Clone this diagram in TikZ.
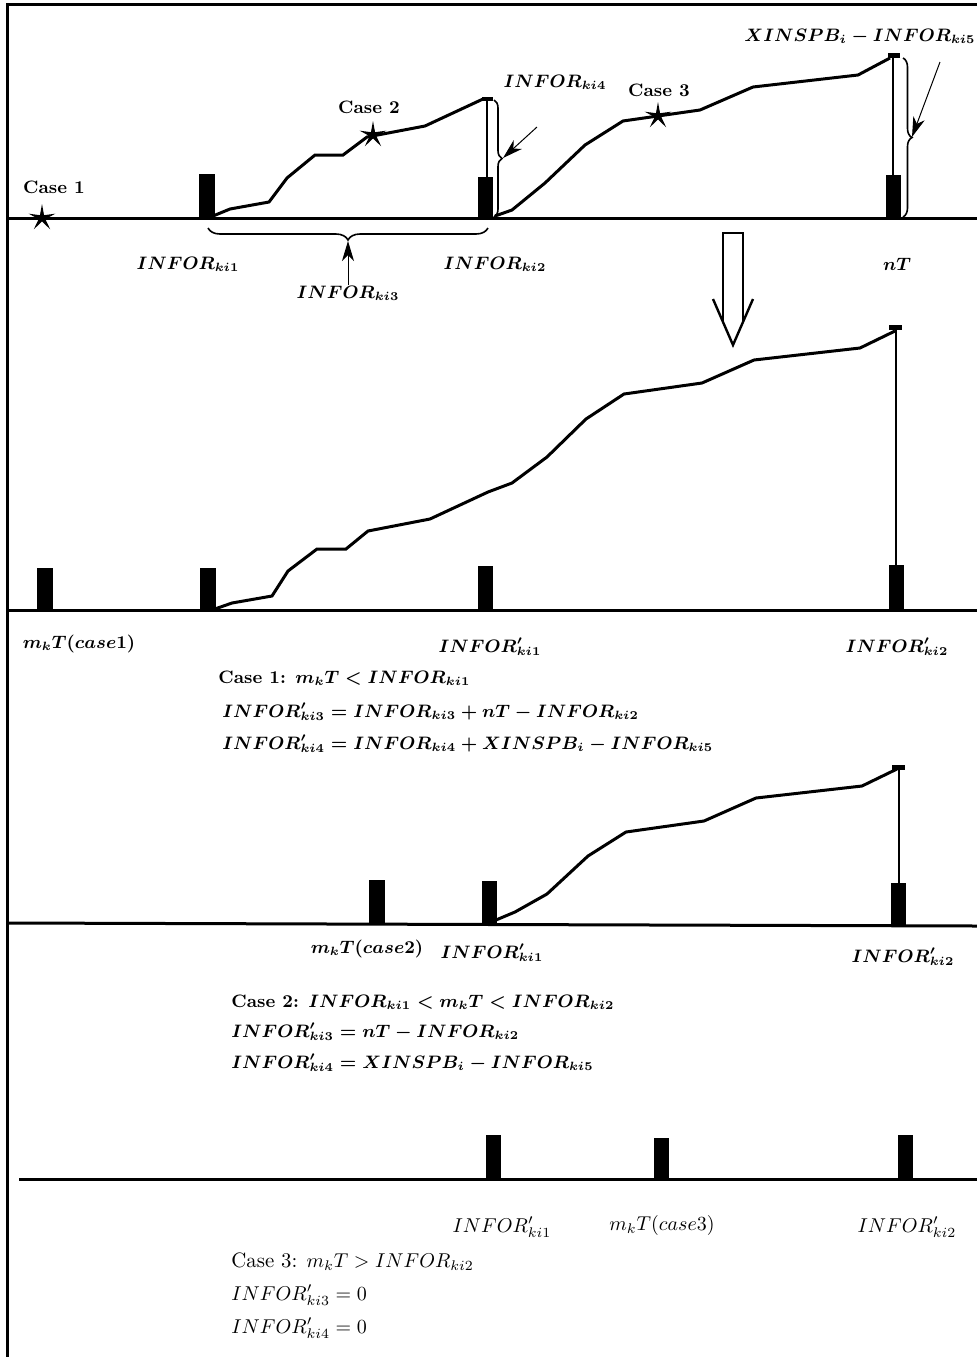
\documentclass[tikz,border=0pt]{standalone}
\usepackage{amsmath}
\usetikzlibrary{arrows.meta,decorations.pathreplacing,shapes.geometric}
\begin{document}
\begin{tikzpicture}[x=0.5pt,y=-0.5pt,
  frame/.style={line width=1.5pt},
  axis/.style={line width=1.5pt},
  curve/.style={line width=1.5pt,line join=miter},
  pole/.style={line width=1pt},
  lbl/.style={inner sep=0pt,anchor=base,font=\fontsize{9}{11}\selectfont\boldmath},
  eqn/.style={inner sep=0pt,anchor=base west,font=\fontsize{9}{11}\selectfont\boldmath},
  lblr/.style={inner sep=0pt,anchor=base,font=\fontsize{10.4}{12.5}\selectfont},
  eqnr/.style={inner sep=0pt,anchor=base west,font=\fontsize{10.4}{12.5}\selectfont},
  casestar/.style={star,star points=5,star point ratio=4,fill=black,minimum size=14pt,inner sep=0pt},
  bracev/.style={decorate,decoration={brace,amplitude=#1},line width=0.8pt},
  braceh/.style={decorate,decoration={brace,amplitude=6pt,mirror},line width=0.8pt},
  thinarrow/.style={-{Stealth[length=10pt,width=6pt,inset=3pt]},line width=0.5pt},
  hollow/.style={line width=1.2pt,line join=miter},
]
\useasboundingbox (0,0) rectangle (977,1357);
% frame
\draw[frame] (7,1357) -- (7,4) -- (977,4);

% ---------------- panel 1 ----------------
\draw[axis] (9,218) -- (977,218);
\fill (199,174) rectangle (215,218);
\fill (478,177) rectangle (493,218);
\draw[pole] (487,99) -- (487,177);
\fill (482,97) rectangle (493,101);
\fill (886,175) rectangle (901,218);
\draw[pole] (893,56) -- (893,175);
\fill (888,53) rectangle (900,58);
\draw[curve] (213,216) -- (230,209) -- (269,202) -- (287,178) -- (315,155) -- (343,155) -- (367,137) -- (425,126) -- (483,99);
\draw[curve] (495,216) -- (512,210) -- (545,183) -- (585,145) -- (623,121) -- (700,110) -- (753,87) -- (858,75) -- (890,58);
\node[casestar] (s1) at (42,218) {};
\node[casestar] (s2) at (373,135) {};
\node[casestar] (s3) at (658,116) {};
\node[lbl] (c1) at (54,193) {\bfseries Case 1};
\node[lbl] (c2) at (369,113) {\bfseries Case 2};
\node[lbl] (c3) at (659,96) {\bfseries Case 3};
\node[lbl] (i1) at (188,269) {$INFOR_{ki1}$};
\node[lbl] (i2) at (495,269) {$INFOR_{ki2}$};
\node[lbl] (nt) at (897,270) {$nT$};
\node[lbl] (i3) at (348,298) {$INFOR_{ki3}$};
\node[lbl] (i4) at (555,87) {$INFOR_{ki4}$};
\node[lbl] (x5) at (860,41) {$XINSPB_i-INFOR_{ki5}$};
% braces and pointers
\draw[braceh] (208,228) -- (488,228);
\coordinate (b3tip) at (348,241);
\draw[thinarrow] (i3.north) -- (b3tip);
\draw[bracev=4pt] (494,100) -- (494,217);
\coordinate (b4tip) at (503,158);
\coordinate (a4start) at (537,127);
\draw[thinarrow] (a4start) -- (b4tip);
\draw[bracev=4.5pt] (903,58) -- (903,217);
\coordinate (b5tip) at (912,137);
\coordinate (a5start) at (940,62);
\draw[thinarrow] (a5start) -- (b5tip);
% hollow arrow
\draw[hollow] (723,322) -- (723,233) -- (743,233) -- (743,322);
\draw[hollow] (713,299) -- (733,345) -- (753,299);

% ---------------- panel 2 ----------------
\draw[axis] (9,610) -- (977,610);
\fill (37,568) rectangle (53,610);
\fill (200,568) rectangle (216,610);
\fill (478,566) rectangle (493,610);
\fill (889,565) rectangle (904,610);
\draw[pole] (896,329) -- (896,565);
\fill (889,325) rectangle (902,330);
\draw[curve] (212,610) -- (232,603) -- (272,596) -- (288,571) -- (317,549) -- (346,549) -- (368,531) -- (430,519) -- (488,492) -- (512,483) -- (547,457) -- (586,419) -- (624,394) -- (702,383) -- (754,360) -- (860,348) -- (895,331);
\node[lbl] (m1) at (79,648) {$m_kT(case1)$};
\node[lbl] (p1a) at (490,652) {$INFOR'_{ki1}$};
\node[lbl] (p1b) at (897,652) {$INFOR'_{ki2}$};
\node[eqn] (e1a) at (218,683) {\bfseries Case 1: $m_kT<INFOR_{ki1}$};
\node[eqn] (e1b) at (222,717) {$INFOR'_{ki3}=INFOR_{ki3}+nT-INFOR_{ki2}$};
\node[eqn] (e1c) at (222,749) {$INFOR'_{ki4}=INFOR_{ki4}+XINSPB_i-INFOR_{ki5}$};

% ---------------- panel 3 ----------------
\draw[axis] (9,923) -- (977,926);
\fill (369,880) rectangle (385,925);
\fill (482,881) rectangle (497,925);
\fill (891,883) rectangle (906,926);
\draw[pole] (899,769) -- (899,883);
\fill (892,765) rectangle (905,770);
\draw[curve] (496,920) -- (515,912) -- (547,894) -- (588,856) -- (626,832) -- (704,821) -- (756,798) -- (862,786) -- (897,769);
\node[lbl] (m2) at (367,953) {$m_kT(case2)$};
\node[lbl] (p2a) at (492,958) {$INFOR'_{ki1}$};
\node[lbl] (p2b) at (903,962) {$INFOR'_{ki2}$};
\node[eqn] (e2a) at (231,1007) {\bfseries Case 2: $INFOR_{ki1}<m_kT<INFOR_{ki2}$};
\node[eqn] (e2b) at (231,1037) {$INFOR'_{ki3}=nT-INFOR_{ki2}$};
\node[eqn] (e2c) at (231,1068) {$INFOR'_{ki4}=XINSPB_i-INFOR_{ki5}$};

% ---------------- panel 4 ----------------
\draw[axis] (19,1179) -- (977,1179);
\fill (486,1135) rectangle (501,1179);
\fill (654,1138) rectangle (669,1179);
\fill (898,1135) rectangle (913,1179);
\node[lblr] (p3a) at (502,1232) {$INFOR'_{ki1}$};
\node[lblr] (m3) at (662,1230) {$m_kT(case3)$};
\node[lblr] (p3b) at (907,1232) {$INFOR'_{ki2}$};
\node[eqnr] (e3a) at (231,1267) {Case 3: $m_kT>INFOR_{ki2}$};
\node[eqnr] (e3b) at (231,1300) {$INFOR'_{ki3}=0$};
\node[eqnr] (e3c) at (231,1333) {$INFOR'_{ki4}=0$};
\end{tikzpicture}
\end{document}
